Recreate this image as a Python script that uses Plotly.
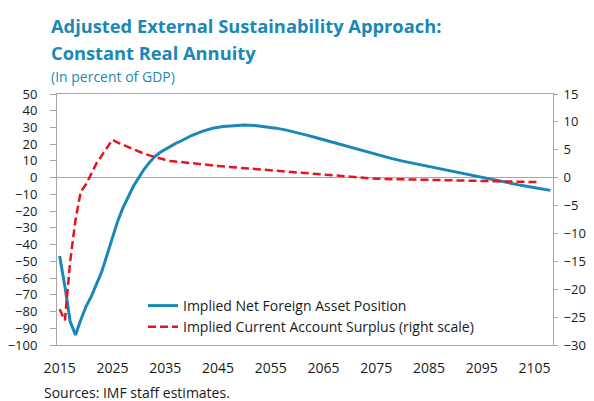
import plotly.graph_objs as go

# Implied Net Foreign Asset Position (left scale, % of GDP)
nfa_years = [2015, 2016, 2017, 2018, 2019, 2020, 2021, 2022, 2023, 2024,
             2025, 2026, 2027, 2028, 2029, 2030, 2031, 2032, 2033, 2034,
             2035, 2036, 2037, 2038, 2040, 2042, 2044, 2046, 2048, 2050,
             2052, 2054, 2056, 2058, 2060, 2062, 2064, 2066, 2068, 2070,
             2072, 2074, 2076, 2078, 2080, 2082, 2084, 2086, 2088, 2090,
             2092, 2094, 2096, 2098, 2100, 2102, 2104, 2106, 2108]
nfa_values = [-46.8, -65, -86, -94, -85, -77, -71, -64, -56, -46,
              -36, -26, -18, -11, -5, 0, 5, 9, 12.5, 15,
              17, 18.9, 20.5, 21.9, 25.2, 27.7, 29.5, 30.6, 31.2, 31.4,
              31.2, 30.6, 29.6, 28.4, 27, 25.3, 23.6, 21.8, 20.1, 18.5,
              16.7, 15, 13.2, 11.4, 9.9, 8.6, 7.2, 5.8, 4.4, 3.1,
              1.8, 0.5, -0.8, -2, -3.2, -4.3, -5.4, -6.5, -7.6]

# Implied Current Account Surplus (right scale, % of GDP)
ca_years = [2015, 2016, 2017, 2018, 2019, 2020, 2021, 2022, 2023, 2024,
            2025, 2026, 2027, 2028, 2029, 2030, 2031, 2032, 2033, 2034,
            2035, 2036, 2038, 2040, 2045, 2050, 2055, 2060, 2065, 2070,
            2075, 2080, 2085, 2090, 2095, 2100, 2106]
ca_values = [-23.6, -25.6, -15, -7.6, -2.5, -1.2, 0.7, 2.6, 4.0, 5.3,
             6.8, 6.3, 5.9, 5.4, 5.0, 4.6, 4.3, 4.0, 3.7, 3.4,
             3.2, 3.0, 2.8, 2.5, 2.1, 1.7, 1.3, 0.9, 0.55, 0.2,
             -0.2, -0.3, -0.4, -0.5, -0.55, -0.65, -0.8]

year_labels = [2015, 2025, 2035, 2045, 2055, 2065, 2075, 2085, 2095, 2105]
tick_marks = [2019.5 + 5 * i for i in range(18)]

W, H = 594, 401
L, R, T, B = 57, 41, 94, 56
TEAL = '#1a88b6'
RED = '#e8141c'
GREY = '#a6a6a6'
FONT = 'Open Sans'


def px(x):
    return (x - L) / (W - L - R)


def py(y):
    return (H - B - y) / (H - T - B)


fig = go.Figure()

fig.add_trace(go.Scatter(
    x=nfa_years, y=nfa_values, mode='lines',
    name='Implied Net Foreign Asset Position',
    line=dict(color=TEAL, width=3)
))
fig.add_trace(go.Scatter(
    x=ca_years, y=ca_values, mode='lines', yaxis='y2',
    name='Implied Current Account Surplus (right scale)',
    line=dict(color=RED, width=2.5, dash='8px,4px')
))

fig.update_layout(
    width=W, height=H, autosize=False,
    margin=dict(l=L, r=R, t=T, b=B),
    paper_bgcolor='white', plot_bgcolor='white',
    font=dict(family=FONT, size=14, color='#1a1a1a'),
    showlegend=True,
    legend=dict(x=px(143), y=py(290), xanchor='left', yanchor='top',
                bgcolor='rgba(0,0,0,0)', font=dict(size=14),
                tracegroupgap=0, itemwidth=30),
    xaxis=dict(range=[2014.5, 2108.5], tickvals=year_labels, ticks='',
               showgrid=False, zeroline=False, showline=True, mirror=True,
               linecolor=GREY, linewidth=1, ticklabelstandoff=10,
               automargin=False),
    xaxis2=dict(range=[2014.5, 2108.5], overlaying='x', anchor='free',
                position=100 / 150, side='top', tickvals=tick_marks,
                ticks='outside', ticklen=5, tickcolor=GREY,
                showticklabels=False, showgrid=False, zeroline=False,
                showline=False, automargin=False),
    yaxis=dict(range=[-100, 50], dtick=10, ticks='outside', ticklen=6,
               tickcolor=GREY, showgrid=False, zeroline=True,
               zerolinecolor=GREY, zerolinewidth=1, showline=True,
               mirror=True, linecolor=GREY, linewidth=1,
               ticklabelstandoff=10, tickfont=dict(size=13),
               automargin=False),
    yaxis2=dict(range=[-30, 15], dtick=5, overlaying='y', side='right',
                ticks='outside', ticklen=4, tickcolor=GREY,
                showgrid=False, zeroline=False, showline=False,
                ticklabelstandoff=3, tickfont=dict(size=13),
                automargin=False),
    annotations=[
        dict(text='<b>Adjusted External Sustainability Approach:</b>',
             xref='paper', yref='paper', x=px(49), y=py(25),
             xanchor='left', yanchor='middle', showarrow=False,
             font=dict(size=18.3, color=TEAL)),
        dict(text='<b>Constant Real Annuity</b>',
             xref='paper', yref='paper', x=px(49), y=py(53),
             xanchor='left', yanchor='middle', showarrow=False,
             font=dict(size=18.3, color=TEAL)),
        dict(text='(In percent of GDP)',
             xref='paper', yref='paper', x=px(49), y=py(76),
             xanchor='left', yanchor='middle', showarrow=False,
             font=dict(size=14, color=TEAL)),
        dict(text='Sources: IMF staff estimates.',
             xref='paper', yref='paper', x=px(42), y=py(392),
             xanchor='left', yanchor='middle', showarrow=False,
             font=dict(size=14, color='#1a1a1a')),
    ]
)

# drop the page's default body margin so the figure sits at the window origin
fig.write_html('out.html', config={'displayModeBar': False},
               post_script="document.body.style.margin='0';")
